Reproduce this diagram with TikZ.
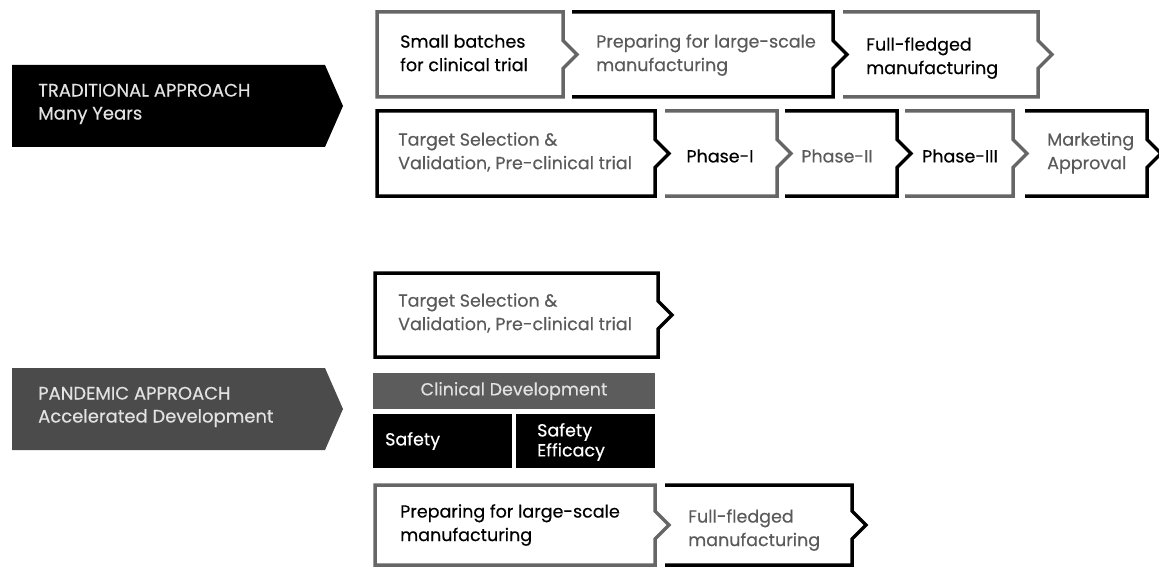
\documentclass[tikz,border=0pt]{standalone}
\usepackage{fontspec}
\setmainfont{Poppins}[FakeBold=0.4]
\definecolor{boxgray}{HTML}{666666}
\definecolor{textgray}{HTML}{5A5A5A}
\definecolor{bargray}{HTML}{5C5C5C}
\definecolor{pandgray}{HTML}{4B4B4B}
\definecolor{lightgray}{HTML}{E2E2E2}
\newcommand{\boxfont}{\fontsize{17.5}{23.5}\selectfont}
\newcommand{\lblfont}{\fontsize{18}{23}\selectfont}
% chevron boxes: [style]{left}{right}{top}{bottom}
\newcommand{\chevopen}[5][]{\draw[#1] (#2,#4) -- (#3,#4) -- (#3,{(#4+#5)/2-14}) -- ({#3+14},{(#4+#5)/2}) -- (#3,{(#4+#5)/2+14}) -- (#3,#5) -- (#2,#5);}
\newcommand{\chevclosed}[5][]{\draw[#1] (#2,#4) -- (#3,#4) -- (#3,{(#4+#5)/2-14}) -- ({#3+14},{(#4+#5)/2}) -- (#3,{(#4+#5)/2+14}) -- (#3,#5) -- (#2,#5) -- cycle;}
\tikzset{
  kline/.style={draw=black,line width=3.5pt,line join=miter},
  gline/.style={draw=boxgray,line width=3.5pt,line join=miter},
  ktext/.style={anchor=west,align=left,inner sep=0pt,text=black,font=\boxfont},
  gtext/.style={anchor=west,align=left,inner sep=0pt,text=textgray,font=\boxfont},
  ctext/.style={align=center,inner sep=0pt,font=\boxfont},
  lbl/.style={anchor=west,align=left,inner sep=0pt,font=\lblfont}
}
\begin{document}
\begin{tikzpicture}[x=1pt,y=-1pt]
    \useasboundingbox (0,0) rectangle (1159,567);

    % approach arrows
    \fill[black] (12,65) -- (325,65) -- (343,106) -- (325,147) -- (12,147) -- cycle;
    \node[lbl,text=lightgray] (trad) at (38,104) {TRADITIONAL APPROACH\\Many Years};
    \fill[pandgray] (12,368) -- (325,368) -- (343,409) -- (325,450) -- (12,450) -- cycle;
    \node[lbl,text=lightgray] (pand) at (38,407) {PANDEMIC APPROACH\\Accelerated Development};

    % traditional, first row
    \chevclosed[gline]{377}{563}{12}{97}
    \chevopen[kline]{572}{833}{12}{97}
    \chevopen[gline]{843}{1038}{12}{97}
    \node[ktext] (batch) at (400,53) {Small batches\\for clinical trial};
    \node[gtext] (prep) at (596,55) {Preparing for large-scale\\manufacturing};
    \node[ktext] (full) at (866,58) {Full-fledged\\manufacturing};

    % traditional, second row
    \chevclosed[kline]{377}{655}{111}{196}
    \chevopen[gline]{665}{777}{111}{196}
    \chevopen[kline]{785}{897}{111}{196}
    \chevopen[gline]{905}{1013}{111}{196}
    \chevopen[kline]{1025}{1147}{111}{196}
    \node[gtext] (target) at (398,152) {Target Selection \&\\Validation, Pre-clinical trial};
    \node[ctext,text=black] (ph1) at (720,156) {Phase-I};
    \node[ctext,text=textgray] (ph2) at (837,156) {Phase-II};
    \node[ctext,text=black] (ph3) at (960,156) {Phase-III};
    \node[gtext] (market) at (1047,153) {Marketing\\Approval};

    % pandemic
    \chevclosed[kline]{375}{658}{273}{357}
    \node[gtext] (ptarget) at (398,313) {Target Selection \&\\Validation, Pre-clinical trial};

    \fill[bargray] (373,373) rectangle (655,409);
    \node[ctext,text=lightgray] (clin) at (514,391) {Clinical Development};
    \fill[black] (373,414) rectangle (512,468);
    \fill[black] (516,414) rectangle (655,468);
    \node[ktext,text=white] (safe) at (385,441) {Safety};
    \node[ktext,text=white,font=\fontsize{17.5}{20}\selectfont] (safeff) at (537,442) {Safety\\Efficacy};

    \chevclosed[gline]{375}{655}{485}{565}
    \chevopen[kline]{665}{852}{485}{565}
    \node[ktext] (pprep) at (400,525) {Preparing for large-scale\\manufacturing};
    \node[gtext] (pfull) at (688,530) {Full-fledged\\manufacturing};
\end{tikzpicture}
\end{document}
